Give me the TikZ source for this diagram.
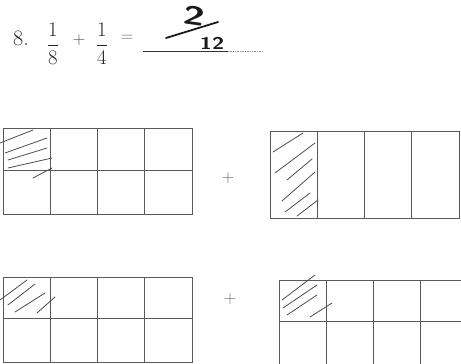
\documentclass[tikz,border=0pt]{standalone}
\usepackage{amsmath}
\begin{document}
\begin{tikzpicture}[
  x=1pt,y=-1pt,
  gridline/.style={draw=black!65,line width=0.7pt},
  hatch/.style={black!70,line width=0.8pt,line cap=round},
  pen/.style={black!90,line width=1.8pt,line cap=round},
  num/.style={font=\fontsize{21}{24}\selectfont,text=black!85,inner sep=0pt},
  plus/.style={font=\fontsize{16}{18}\selectfont,text=black!60,inner sep=0pt},
  hand/.style={font=\sffamily\bfseries,text=black!90,inner sep=0pt}
]
\useasboundingbox (0,0) rectangle (461,364);
\clip (0,0) rectangle (461,364);

% question
\node[num,font=\fontsize{22}{24}\selectfont] (item) at (21,38) {8.};
\node[num] (fracA) at (53,44) {$\dfrac{1}{8}$};
\node[plus,text=black!70] (plusA) at (79,40) {$+$};
\node[num] (fracB) at (102,44) {$\dfrac{1}{4}$};
\node[plus,text=black!60] (eqA) at (127,38) {$=$};
\coordinate (lineL) at (143,51);
\coordinate (lineM) at (228,51);
\coordinate (lineR) at (263,51);
\draw[black!80,line width=0.7pt] (lineL) -- (lineM);
\draw[black!45,line width=0.7pt,densely dotted] (lineM) -- (lineR);

% handwritten answer
\node[hand,font=\sffamily\bfseries\fontsize{26}{30}\selectfont,rotate=-8,xscale=1.5] (ansN) at (194,16) {2};
\node[hand,font=\sffamily\bfseries\fontsize{17}{19}\selectfont,xscale=1.3] (ansD) at (212,43) {12};
\draw[pen] (166,38) -- (218,22);

% grids
\def\cw{47.25}
\draw[gridline] (3,128) rectangle (192,214);
\draw[gridline] (3,170) -- (192,170);
\foreach \c in {1,2,3}{
  \draw[gridline] (3+\c*\cw,128) -- (3+\c*\cw,214);
}
\draw[gridline] (270,131) rectangle (459,218);
\foreach \c in {1,2,3}{
  \draw[gridline] (270+\c*\cw,131) -- (270+\c*\cw,218);
}
\draw[gridline] (3,277) rectangle (192,362);
\draw[gridline] (3,318) -- (192,318);
\foreach \c in {1,2,3}{
  \draw[gridline] (3+\c*\cw,277) -- (3+\c*\cw,362);
}
\draw[gridline] (279,280) rectangle (468,366);
\draw[gridline] (279,321) -- (468,321);
\foreach \c in {1,2,3}{
  \draw[gridline] (279+\c*\cw,280) -- (279+\c*\cw,366);
}

\node[plus] (plusB) at (228,178) {$+$};
\node[plus] (plusC) at (230,299) {$+$};

% shading strokes
\draw[hatch] (0,143) -- (33,130);
\draw[hatch] (5,153) -- (47,138);
\draw[hatch] (8,160) -- (47,148);
\draw[hatch] (8,168) -- (52,158);
\draw[hatch] (33,178) -- (52,168);

\draw[hatch] (273,152) -- (303,133);
\draw[hatch] (275,173) -- (315,143);
\draw[hatch] (287,180) -- (312,159);
\draw[hatch] (282,201) -- (315,172);
\draw[hatch] (285,212) -- (310,193);
\draw[hatch] (297,216) -- (318,200);

\draw[hatch] (0,300) -- (27,280);
\draw[hatch] (8,305) -- (35,284);
\draw[hatch] (15,312) -- (45,293);
\draw[hatch] (37,313) -- (55,297);

\draw[hatch] (282,300) -- (315,275);
\draw[hatch] (283,308) -- (317,285);
\draw[hatch] (287,315) -- (317,295);
\draw[hatch] (310,317) -- (332,303);

\end{tikzpicture}
\end{document}
